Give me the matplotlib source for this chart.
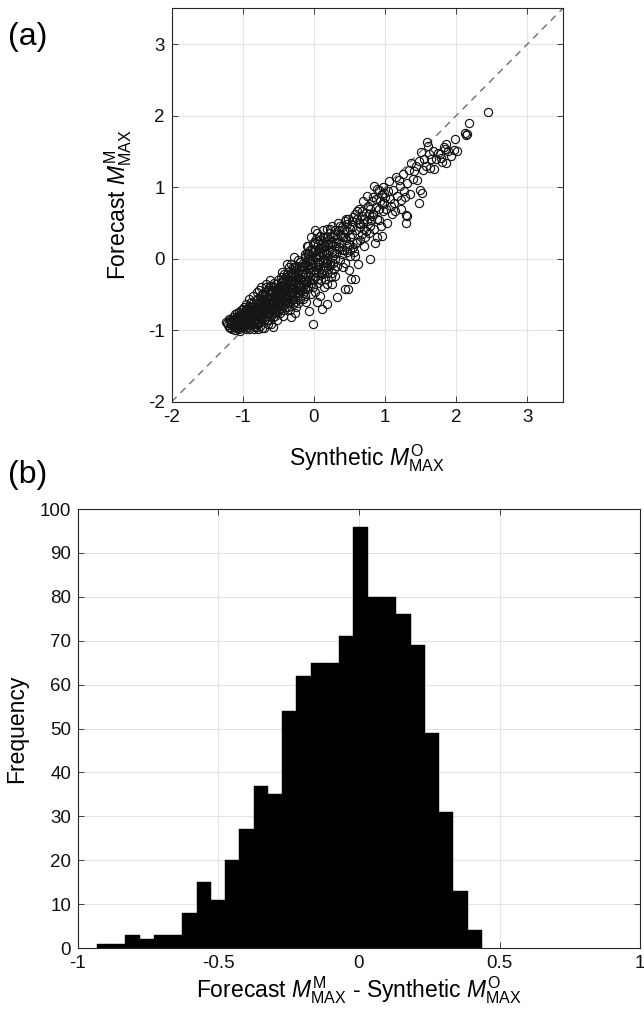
import matplotlib
matplotlib.use('Agg')
import matplotlib.pyplot as plt
import numpy as np

plt.rcParams['font.family'] = ['Liberation Sans', 'DejaVu Sans']
plt.rcParams['mathtext.fontset'] = 'custom'
plt.rcParams['mathtext.rm'] = 'Liberation Sans'
plt.rcParams['mathtext.it'] = 'Liberation Sans:italic'
plt.rcParams['axes.unicode_minus'] = False

'''---------------Data------------------------'''

# (synthetic, forecast) pairs, grouped by x range
pts_a = [(-1.22,-0.90),(-1.20,-0.95),(-1.18,-0.86),(-1.17,-0.92),(-1.15,-0.98),(-1.14,-0.82),(-1.13,-0.88),(-1.12,-0.93),(-1.11,-0.78),(-1.10,-0.85),
         (-1.09,-0.96),(-1.08,-0.90),(-1.07,-0.80),(-1.06,-0.87),(-1.05,-0.99),(-1.05,-0.74),(-1.04,-0.92),(-1.03,-0.84),(-1.02,-0.77),(-1.01,-0.95),
         (-1.00,-0.88),(-1.00,-0.70),(-1.19,-0.84),(-1.16,-0.89),(-1.13,-0.96),(-1.10,-0.92),(-1.08,-0.82),(-1.06,-0.93),(-1.04,-0.80),(-1.02,-0.86),
         (-1.12,-0.85),(-1.07,-0.97),(-1.03,-0.72),(-1.15,-0.90),(-1.09,-0.83)]
pts_b = [(-0.99,-0.95),(-0.98,-0.80),(-0.97,-0.88),(-0.96,-0.70),(-0.95,-0.92),(-0.94,-0.84),(-0.93,-0.76),(-0.92,-0.98),(-0.91,-0.66),(-0.90,-0.86),
         (-0.89,-0.74),(-0.88,-0.92),(-0.87,-0.80),(-0.86,-0.62),(-0.85,-0.88),(-0.84,-0.70),(-0.83,-0.95),(-0.82,-0.78),(-0.81,-0.58),(-0.80,-0.84),
         (-0.79,-0.68),(-0.78,-0.90),(-0.77,-0.75),(-0.76,-0.52),(-0.75,-0.82),(-0.74,-0.64),(-0.73,-0.97),(-0.72,-0.72),(-0.71,-0.56),(-0.70,-0.86),
         (-0.99,-0.86),(-0.97,-0.74),(-0.95,-0.64),(-0.93,-0.90),(-0.91,-0.80),(-0.89,-0.60),(-0.87,-0.85),(-0.85,-0.76),(-0.83,-0.66),(-0.81,-0.92),
         (-0.79,-0.78),(-0.77,-0.60),(-0.75,-0.70),(-0.73,-0.84),(-0.71,-0.48),(-0.98,-0.68),(-0.94,-0.96),(-0.90,-0.72),(-0.86,-0.82),(-0.82,-0.70),
         (-0.78,-0.62),(-0.74,-0.88),(-0.70,-0.66),(-0.96,-0.82),(-0.92,-0.88),(-0.88,-0.68),(-0.84,-0.78),(-0.80,-0.74),(-0.76,-0.94),(-0.72,-0.60),
         (-0.80,-0.46),(-0.75,-0.40),(-0.92,-0.56),(-0.86,-0.52)]
pts_c = [(-0.69,-0.50),(-0.68,-0.72),(-0.67,-0.60),(-0.66,-0.86),(-0.65,-0.44),(-0.64,-0.66),(-0.63,-0.78),(-0.62,-0.38),(-0.61,-0.56),(-0.60,-0.92),
         (-0.59,-0.62),(-0.58,-0.48),(-0.57,-0.70),(-0.56,-0.34),(-0.55,-0.80),(-0.54,-0.54),(-0.53,-0.42),(-0.52,-0.66),(-0.51,-0.30),(-0.50,-0.58),
         (-0.49,-0.72),(-0.48,-0.46),(-0.47,-0.26),(-0.46,-0.62),(-0.45,-0.38),(-0.44,-0.50),(-0.43,-0.80),(-0.42,-0.22),(-0.41,-0.44),(-0.40,-0.56),
         (-0.69,-0.64),(-0.67,-0.40),(-0.65,-0.76),(-0.63,-0.58),(-0.61,-0.68),(-0.59,-0.44),(-0.57,-0.60),(-0.55,-0.50),(-0.53,-0.36),(-0.51,-0.74),
         (-0.49,-0.48),(-0.47,-0.56),(-0.45,-0.66),(-0.43,-0.32),(-0.41,-0.60),(-0.68,-0.80),(-0.64,-0.54),(-0.60,-0.70),(-0.56,-0.62),(-0.52,-0.48),
         (-0.48,-0.40),(-0.44,-0.28),(-0.40,-0.68),(-0.66,-0.56),(-0.62,-0.46),(-0.58,-0.82),(-0.54,-0.58),(-0.50,-0.42),(-0.46,-0.52),(-0.42,-0.36),
         (-0.70,-0.97),(-0.57,-0.96),(-0.60,-0.64),(-0.55,-0.74)]
pts_d = [(-0.39,-0.30),(-0.38,-0.52),(-0.37,-0.18),(-0.36,-0.44),(-0.35,-0.62),(-0.34,-0.26),(-0.33,-0.38),(-0.32,-0.08),(-0.31,-0.50),(-0.30,-0.32),
         (-0.29,-0.20),(-0.28,-0.42),(-0.27,-0.60),(-0.26,-0.12),(-0.25,-0.34),(-0.24,-0.48),(-0.23,-0.24),(-0.22,-0.02),(-0.21,-0.40),(-0.20,-0.56),
         (-0.19,-0.16),(-0.18,-0.30),(-0.17,-0.44),(-0.16,-0.06),(-0.15,-0.26),(-0.14,-0.36),(-0.13,-0.52),(-0.12,0.02),(-0.11,-0.20),(-0.10,-0.32),
         (-0.39,-0.42),(-0.37,-0.34),(-0.35,-0.12),(-0.33,-0.56),(-0.31,-0.24),(-0.29,-0.46),(-0.27,-0.30),(-0.25,-0.68),(-0.23,-0.18),(-0.21,-0.36),
         (-0.19,-0.28),(-0.17,-0.10),(-0.15,-0.40),(-0.13,-0.22),(-0.11,-0.60),(-0.38,-0.22),(-0.34,-0.72),(-0.30,-0.40),(-0.26,-0.26),(-0.22,-0.48),
         (-0.18,-0.38),(-0.14,-0.12),(-0.10,-0.42),(-0.36,-0.36),(-0.28,-0.16),(-0.20,-0.28),(-0.12,-0.08),(-0.32,-0.30),(-0.24,-0.54),(-0.16,-0.20)]
pts_e = [(-0.09,-0.10),(-0.08,0.18),(-0.07,-0.30),(-0.06,0.04),(-0.05,-0.20),(-0.04,0.30),(-0.03,-0.06),(-0.02,-0.40),(-0.01,0.10),(0.00,-0.16),
         (0.01,0.22),(0.02,-0.26),(0.03,0.02),(0.04,0.36),(0.05,-0.12),(0.06,-0.34),(0.07,0.14),(0.08,-0.04),(0.09,0.26),(0.10,-0.20),
         (0.11,0.08),(0.12,-0.10),(0.13,0.40),(0.14,0.00),(0.15,-0.28),(0.16,0.18),(0.17,-0.06),(0.18,0.30),(0.19,0.06),(0.20,-0.14),
         (-0.09,-0.24),(-0.07,0.08),(-0.05,-0.02),(-0.03,0.14),(-0.01,-0.30),(0.01,0.02),(0.03,-0.18),(0.05,0.20),(0.07,-0.08),(0.09,0.10),
         (0.11,-0.22),(0.13,0.16),(0.15,-0.02),(0.17,0.24),(0.19,-0.36),(-0.08,0.06),(-0.04,-0.12),(0.00,0.24),(0.04,-0.04),(0.08,0.32),
         (0.12,-0.04),(0.16,0.12),(0.20,0.20),(-0.06,-0.18),(0.02,-0.46),(0.10,-0.30),(0.18,-0.20),(-0.16,-0.56),(-0.07,-0.73),(-0.02,-0.91),(0.11,-0.70)]
pts_f = [(0.21,0.12),(0.22,0.36),(0.23,-0.04),(0.24,0.24),(0.25,0.46),(0.26,0.02),(0.27,0.30),(0.28,-0.14),(0.29,0.18),(0.30,0.40),
         (0.31,0.08),(0.32,0.28),(0.33,-0.10),(0.34,0.50),(0.35,0.16),(0.36,0.34),(0.37,-0.02),(0.38,0.22),(0.39,0.44),(0.40,0.06),
         (0.41,0.30),(0.42,0.12),(0.43,0.52),(0.44,-0.06),(0.45,0.26),(0.46,0.38),(0.47,0.10),(0.48,0.56),(0.49,0.20),(0.50,0.42),
         (0.22,0.20),(0.26,-0.20),(0.30,0.00),(0.34,0.14),(0.38,0.32),(0.42,0.40),(0.46,0.18),(0.50,0.04),(0.33,-0.54),(0.44,-0.42),
         (0.48,-0.42),(0.19,-0.63),(0.25,-0.36)]
pts_g = [(0.51,0.30),(0.53,0.52),(0.55,0.16),(0.57,0.62),(0.59,0.40),(0.61,0.24),(0.63,0.70),(0.65,0.48),(0.67,0.34),(0.69,0.80),
         (0.71,0.56),(0.73,0.38),(0.75,0.88),(0.77,0.62),(0.79,0.46),(0.52,-0.28),(0.56,0.10),(0.60,0.56),(0.64,0.44),(0.68,0.66),
         (0.72,0.30),(0.76,0.74),(0.80,0.54),(0.54,0.44),(0.62,-0.08),(0.70,0.18),(0.78,0.36),(0.49,-0.16),(0.58,-0.28),(0.79,0.00)]
pts_h = [(0.81,0.60),(0.83,0.86),(0.85,0.42),(0.87,0.72),(0.89,0.98),(0.91,0.54),(0.93,0.80),(0.95,0.32),(0.97,0.66),(0.99,0.92),
         (1.01,0.70),(1.03,0.50),(1.05,1.08),(1.07,0.84),(1.09,0.62),(0.84,1.02),(0.88,0.30),(0.92,0.96),(0.96,0.76),(1.00,0.86),
         (1.04,0.94),(1.08,0.74),(0.86,0.22),(0.94,0.46)]
pts_i = [(1.11,0.96),(1.13,0.78),(1.15,1.14),(1.17,0.88),(1.19,1.10),(1.21,1.02),(1.23,0.82),(1.25,1.18),(1.27,0.94),(1.29,0.61),
         (1.31,1.06),(1.33,1.24),(1.35,0.90),(1.37,1.34),(1.39,1.12),(1.14,0.66),(1.22,0.70),(1.28,0.86),(1.30,0.50),(1.31,0.59)]
pts_j = [(1.41,1.22),(1.43,1.30),(1.45,1.10),(1.47,1.36),(1.49,0.96),(1.51,1.49),(1.53,1.24),(1.55,1.40),(1.57,1.30),(1.59,1.63),
         (1.61,1.46),(1.63,1.27),(1.65,1.39),(1.67,1.50),(1.69,1.26),(1.48,0.78),(1.52,0.92),(1.60,1.58)]
pts_k = [(1.72,1.40),(1.75,1.48),(1.77,1.46),(1.80,1.35),(1.83,1.56),(1.84,1.53),(1.86,1.34),(1.88,1.50),(1.92,1.44),(1.97,1.52),
         (1.98,1.67),(2.01,1.50),(2.12,1.76),(2.14,1.73),(2.15,1.75),(2.18,1.89),(2.45,2.05),(1.79,1.41),(1.86,1.60)]

# extra points in the dense core of the cloud
core_1 = [(-1.11,-0.91),(-1.09,-0.87),(-1.07,-0.93),(-1.05,-0.83),(-1.03,-0.96),(-1.01,-0.81),(-0.99,-0.90),(-0.97,-0.78),(-0.95,-0.86),(-0.93,-0.82),
          (-0.91,-0.93),(-0.89,-0.84),(-0.87,-0.72),(-0.85,-0.94),(-0.83,-0.86),(-0.81,-0.68),(-1.08,-0.76),(-1.04,-0.88),(-1.00,-0.94),(-0.96,-0.76),
          (-0.92,-0.72),(-0.88,-0.80),(-0.84,-0.90),(-0.80,-0.64),(-1.06,-0.80),(-1.02,-0.91),(-0.98,-0.84),(-0.94,-0.70),(-0.90,-0.90),(-0.86,-0.74),
          (-0.82,-0.86),(-1.17,-0.87),(-1.21,-0.93),(-1.24,-0.88),(-1.18,-0.97),(-1.11,-1.00),(-1.04,-1.01),(-0.95,-0.99),(-0.85,-0.98),(-0.79,-0.99)]
core_2 = [(-0.79,-0.72),(-0.77,-0.82),(-0.75,-0.60),(-0.73,-0.76),(-0.71,-0.66),(-0.69,-0.84),(-0.67,-0.52),(-0.65,-0.70),(-0.63,-0.62),(-0.61,-0.80),
          (-0.59,-0.54),(-0.57,-0.40),(-0.55,-0.66),(-0.53,-0.74),(-0.51,-0.56),(-0.78,-0.56),(-0.74,-0.78),(-0.70,-0.58),(-0.66,-0.74),(-0.62,-0.50),
          (-0.58,-0.70),(-0.54,-0.46),(-0.50,-0.64),(-0.76,-0.68),(-0.72,-0.50),(-0.68,-0.62),(-0.64,-0.86),(-0.60,-0.46),(-0.56,-0.76),(-0.52,-0.58),
          (-0.77,-0.44),(-0.68,-0.36),(-0.62,-0.30),(-0.64,-0.92),(-0.52,-0.86),(-0.70,-0.76),(-0.66,-0.66),(-0.58,-0.58),(-0.54,-0.68),(-0.60,-0.38)]
core_3 = [(-0.49,-0.60),(-0.47,-0.42),(-0.45,-0.54),(-0.43,-0.64),(-0.41,-0.34),(-0.39,-0.50),(-0.37,-0.60),(-0.35,-0.40),(-0.33,-0.20),(-0.31,-0.42),
          (-0.29,-0.56),(-0.27,-0.22),(-0.25,-0.44),(-0.23,-0.38),(-0.21,-0.12),(-0.48,-0.54),(-0.44,-0.44),(-0.40,-0.26),(-0.36,-0.54),(-0.32,-0.46),
          (-0.28,-0.32),(-0.24,-0.10),(-0.20,-0.44),(-0.46,-0.32),(-0.42,-0.58),(-0.38,-0.40),(-0.34,-0.32),(-0.30,-0.12),(-0.26,-0.50),(-0.22,-0.30),
          (-0.48,-0.76),(-0.42,-0.72),(-0.36,-0.68),(-0.30,-0.64),(-0.45,-0.18),(-0.38,-0.08),(-0.28,0.02),(-0.33,-0.82),(-0.26,-0.76),(-0.22,-0.62)]
core_4 = [(-0.19,-0.04),(-0.17,-0.22),(-0.15,-0.48),(-0.13,0.06),(-0.11,-0.30),(-0.09,0.00),(-0.07,-0.14),(-0.05,0.12),(-0.03,-0.34),(-0.01,0.00),
          (0.01,-0.10),(0.03,0.28),(0.05,-0.28),(0.07,0.04),(0.09,-0.14),(0.11,0.22),(0.13,-0.16),(0.15,0.30),(0.17,0.08),(0.19,-0.06),
          (0.21,0.28),(0.23,0.42),(0.25,0.10),(0.27,-0.06),(0.29,0.34),(-0.18,-0.12),(-0.14,-0.30),(-0.10,0.08),(-0.06,-0.08),(-0.02,0.20),
          (0.02,0.12),(0.06,-0.20),(0.10,0.16),(0.14,0.08),(0.18,0.42),(0.22,-0.08),(0.26,0.20),(0.28,0.08),(-0.12,-0.42),(-0.08,-0.38),
          (-0.04,-0.50),(0.04,-0.60),(0.08,-0.52),(0.14,-0.40),(0.24,-0.26),(0.30,-0.24),(0.12,0.30),(0.02,0.40),(-0.10,0.18),(0.16,-0.12)]
core_5 = [(0.31,0.22),(0.35,0.40),(0.39,0.12),(0.43,0.30),(0.47,0.48),(0.51,0.12),(0.55,0.58),(0.59,0.22),(0.63,0.50),(0.67,0.60),
          (0.71,0.42),(0.75,0.52),(0.79,0.70),(0.83,0.62),(0.87,0.84),(0.91,0.70),(0.95,0.90),(0.99,0.78),(0.37,0.46),(0.41,-0.12),
          (0.53,0.34),(0.57,0.04),(0.65,0.26),(0.73,0.64),(0.81,0.80),(0.89,0.56),(0.97,1.00),(0.45,0.56),(0.61,0.66),(0.69,0.50)]

# panel (b): histogram counts, 27 equal bins
hist_first_edge = -0.933
hist_last_edge = 0.437
hist_counts = [1, 1, 3, 2, 3, 3, 8, 15, 11, 20, 27, 37, 35, 54, 62, 65, 65, 71,
               96, 80, 80, 76, 69, 49, 31, 13, 4]

scatter_ticks = [-2, -1, 0, 1, 2, 3]
hist_xticks = [-1, -0.5, 0, 0.5, 1]
hist_xticklabels = ['-1', '-0.5', '0', '0.5', '1']
hist_yticks = list(range(0, 101, 10))

lab_fm = r'Forecast $M^{\mathrm{M}}_{\mathrm{MAX}}$'
lab_so = r'Synthetic $M^{\mathrm{O}}_{\mathrm{MAX}}$'

'''---------------Plot------------------------'''

axcol = '#262626'
gridcol = '#e3e3e3'
lab_size = 16.5
tick_size = 13.5

def style(ax):
    for s in ax.spines.values():
        s.set_color(axcol)
        s.set_linewidth(0.8)
    ax.tick_params(direction='in', top=True, right=True, length=4, width=0.6,
                   color=axcol, labelsize=tick_size, labelcolor='#111111', pad=5)
    ax.grid(True, color=gridcol, linewidth=0.8)
    ax.set_axisbelow(True)

fig = plt.figure(figsize=(6.44, 10.15), dpi=100)

allpts = (pts_a + pts_b + pts_c + pts_d + pts_e + pts_f + pts_g + pts_h + pts_i + pts_j + pts_k
          + core_1 + core_2 + core_3 + core_4 + core_5)
sx = [p[0] for p in allpts]
sy = [p[1] for p in allpts]

ax1 = fig.add_axes([0.2666, 0.6042, 0.6076, 0.3876])
ax1.plot([-2, 3.5], [-2, 3.5], '--', color='#6e6e6e', linewidth=1.0, dashes=(5, 4))
ax1.plot(sx, sy, 'o', mfc='none', mec='#151515', ms=5.9, mew=0.85)
ax1.set_xlim(-2, 3.5)
ax1.set_ylim(-2, 3.5)
ax1.set_xticks(scatter_ticks)
ax1.set_yticks(scatter_ticks)
style(ax1)
ax1.set_xlabel(lab_so, fontsize=lab_size, labelpad=12)
ax1.set_ylabel(lab_fm, fontsize=lab_size, labelpad=10)

ax2 = fig.add_axes([0.1211, 0.0660, 0.8727, 0.4325])
edges = np.linspace(hist_first_edge, hist_last_edge, len(hist_counts) + 1)
ax2.bar(edges[:-1], hist_counts, width=np.diff(edges), align='edge',
        color='black', edgecolor='black', linewidth=0.3)
ax2.set_xlim(-1, 1)
ax2.set_ylim(0, 100)
ax2.set_xticks(hist_xticks)
ax2.set_xticklabels(hist_xticklabels)
ax2.set_yticks(hist_yticks)
style(ax2)
ax2.set_xlabel(lab_fm + ' - ' + lab_so, fontsize=lab_size, labelpad=2)
ax2.set_ylabel('Frequency', fontsize=lab_size, labelpad=8)

fig.text(0.012, 0.978, '(a)', fontsize=23, va='top', ha='left')
fig.text(0.012, 0.547, '(b)', fontsize=23, va='top', ha='left')

fig.savefig('out.png', dpi=100)
